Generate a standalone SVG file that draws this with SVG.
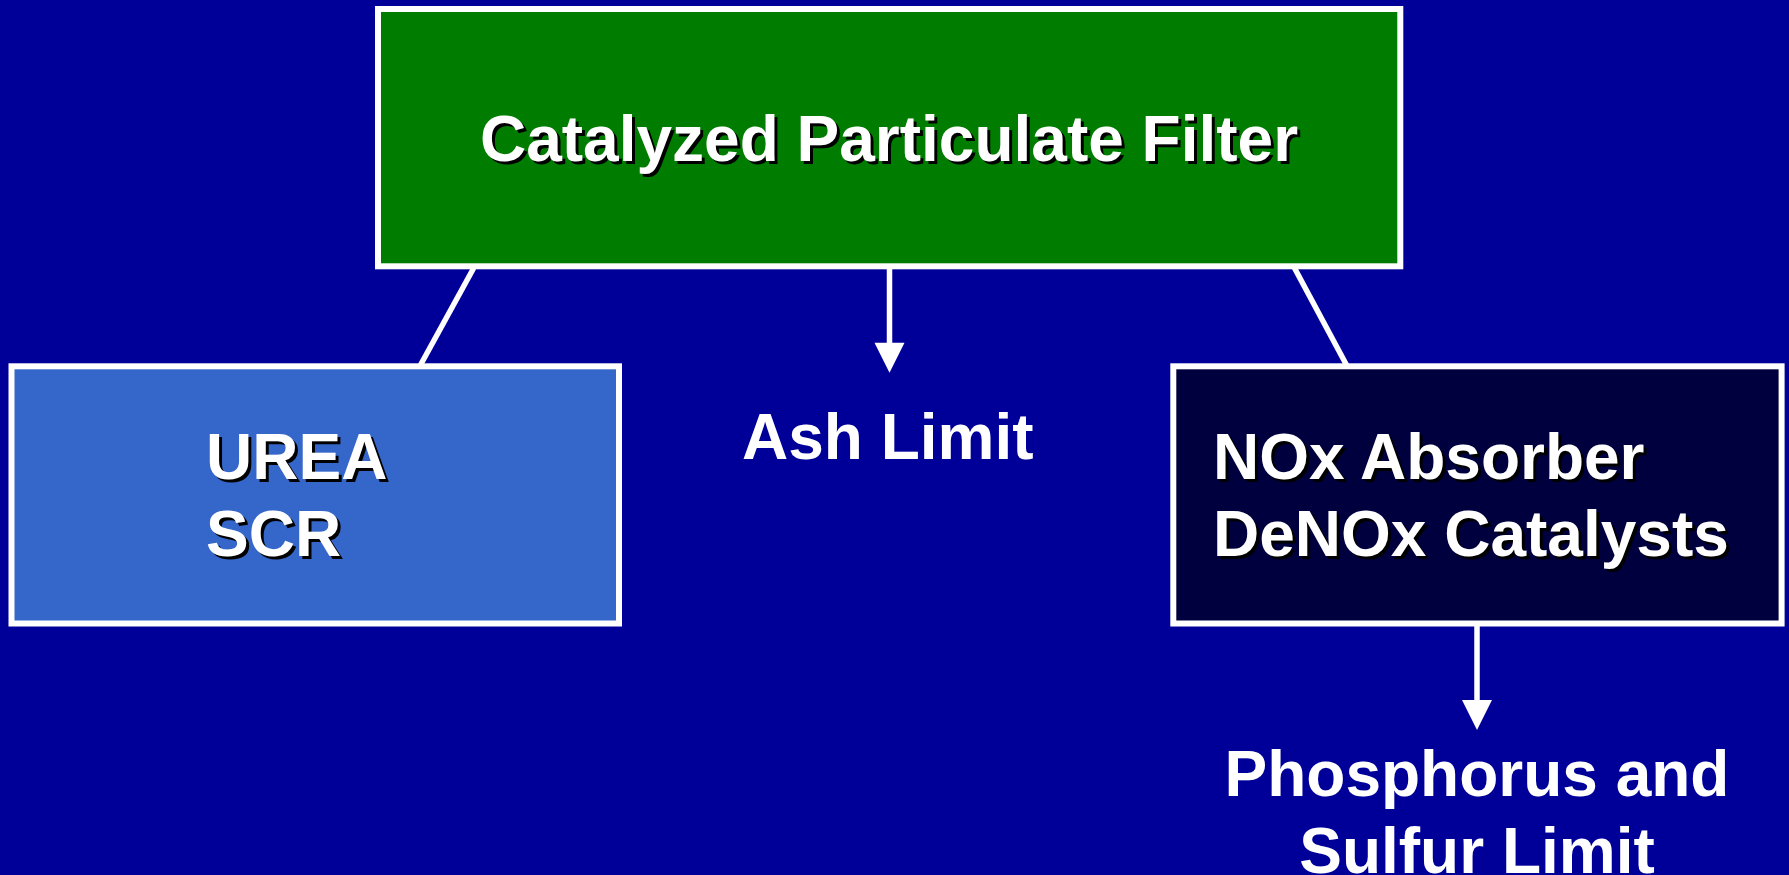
<svg xmlns="http://www.w3.org/2000/svg" width="1789" height="875" viewBox="0 0 1789 875">
<style>
.box{stroke:#ffffff;stroke-width:6}
.t{font-family:"Liberation Sans",Arial,sans-serif;font-weight:bold;font-size:64px;fill:#ffffff}
.sh{font-family:"Liberation Sans",Arial,sans-serif;font-weight:bold;font-size:64px;fill:#000000}
.ln{stroke:#ffffff;stroke-width:5.5;fill:none}
.hd{fill:#ffffff}
</style>
<rect x="0" y="0" width="1789" height="875" fill="#000099"/>
<g id="connectors">
<line class="ln" x1="473.7" y1="268" x2="420.5" y2="365"/>
<line class="ln" x1="1294.5" y1="268" x2="1346.5" y2="365"/>
<line class="ln" x1="889.5" y1="268" x2="889.5" y2="345"/>
<polygon class="hd" points="874.5,342.7 904.5,342.7 889.5,372.7"/>
<line class="ln" x1="1477" y1="625" x2="1477" y2="702"/>
<polygon class="hd" points="1462,700 1492,700 1477,730"/>
</g>
<g id="node-cpf">
<rect class="box" x="378" y="9" width="1022.3" height="257.3" fill="#007C00"/>
<text class="sh" x="892" y="164" text-anchor="middle">Catalyzed Particulate Filter</text>
<text class="t" x="889" y="161" text-anchor="middle">Catalyzed Particulate Filter</text>
</g>
<g id="node-urea">
<rect class="box" x="11.5" y="366.3" width="607.5" height="257.2" fill="#3567CB"/>
<text class="sh" x="209" y="482">UREA</text>
<text class="t" x="206" y="479">UREA</text>
<text class="sh" x="209" y="559">SCR</text>
<text class="t" x="206" y="556">SCR</text>
</g>
<g id="node-ash">
<text class="t" x="742" y="459">Ash Limit</text>
</g>
<g id="node-nox">
<rect class="box" x="1173.3" y="366.3" width="608.3" height="257.2" fill="#00003F"/>
<text class="sh" x="1216" y="482">NOx Absorber</text>
<text class="t" x="1213" y="479">NOx Absorber</text>
<text class="sh" x="1216" y="559">DeNOx Catalysts</text>
<text class="t" x="1213" y="556">DeNOx Catalysts</text>
</g>
<g id="node-ps">
<text class="t" x="1477" y="796" text-anchor="middle">Phosphorus and</text>
<text class="t" x="1477" y="873" text-anchor="middle">Sulfur Limit</text>
</g>
</svg>
